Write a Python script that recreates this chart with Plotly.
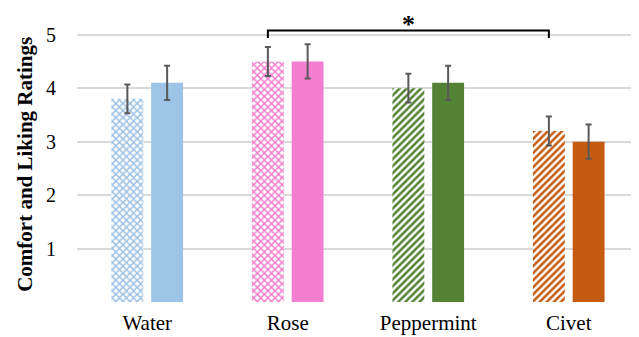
import plotly.graph_objects as go

categories = ["Water", "Rose", "Peppermint", "Civet"]
comfort = [3.8, 4.5, 4.0, 3.2]
comfort_err = [0.27, 0.27, 0.27, 0.27]
liking = [4.1, 4.5, 4.1, 3.0]
liking_err = [0.32, 0.32, 0.32, 0.32]
colors = ["#9DC3E6", "#F47FD0", "#548235", "#C55A11"]
pattern_shapes = ["x", "x", "/", "/"]
y_title = "Comfort and Liking Ratings"

font_family = "Liberation Serif, Times New Roman, serif"

fig = go.Figure()

fig.add_trace(go.Bar(
    x=categories, y=comfort,
    width=0.227, offset=-0.255,
    marker=dict(
        color="white",
        line=dict(width=0),
        pattern=dict(shape=pattern_shapes, fgcolor=colors, bgcolor="white",
                     size=5, solidity=0.5, fgopacity=1, fillmode="overlay"),
    ),
    error_y=dict(type="data", array=comfort_err, color="#595959", thickness=2, width=3),
    showlegend=False,
))

fig.add_trace(go.Bar(
    x=categories, y=liking,
    width=0.227, offset=0.028,
    marker=dict(color=colors, line=dict(width=0)),
    error_y=dict(type="data", array=liking_err, color="#595959", thickness=2, width=3),
    showlegend=False,
))

# significance bracket between Rose (comfort) and Civet (comfort)
x_left = 1 - 0.255 + 0.227 / 2
x_right = 3 - 0.255 + 0.227 / 2
fig.add_shape(type="path", xref="x", yref="y",
              path=f"M {x_left},4.94 L {x_left},5.08 L {x_right},5.08 L {x_right},4.94",
              line=dict(color="black", width=2))
fig.add_annotation(x=(x_left + x_right) / 2, y=5.19, xref="x", yref="y",
                   text="<b>*</b>", showarrow=False, yanchor="middle",
                   font=dict(size=26, color="black", family=font_family))

# y-axis title, centred on the 0-5 value range as in the reference
fig.add_annotation(x=-0.094, y=2.57, xref="paper", yref="y",
                   text=f"<b>{y_title}</b>", showarrow=False, textangle=-90,
                   xanchor="center", yanchor="middle",
                   font=dict(size=21, color="black", family=font_family))

# page body adds an 8px margin, so the figure is sized/positioned to compensate
fig.update_layout(
    width=631, height=329,
    margin=dict(l=69, r=0, t=0, b=35),
    paper_bgcolor="white", plot_bgcolor="white",
    barmode="overlay",
    font=dict(family=font_family, color="black"),
)
fig.update_xaxes(range=[-0.5, 3.5], showgrid=False, showline=False, zeroline=False,
                 ticklabelstandoff=6,
                 tickfont=dict(size=21, family=font_family, color="black"))
fig.update_yaxes(range=[0, 5.5], tickvals=[0, 1, 2, 3, 4, 5], ticktext=["", "1", "2", "3", "4", "5"],
                 showgrid=True, gridcolor="#D9D9D9", gridwidth=1.5, zeroline=False,
                 showline=False, ticklabelstandoff=20, automargin=False,
                 tickfont=dict(size=20, family=font_family, color="black"))

fig.write_html("out.html")
